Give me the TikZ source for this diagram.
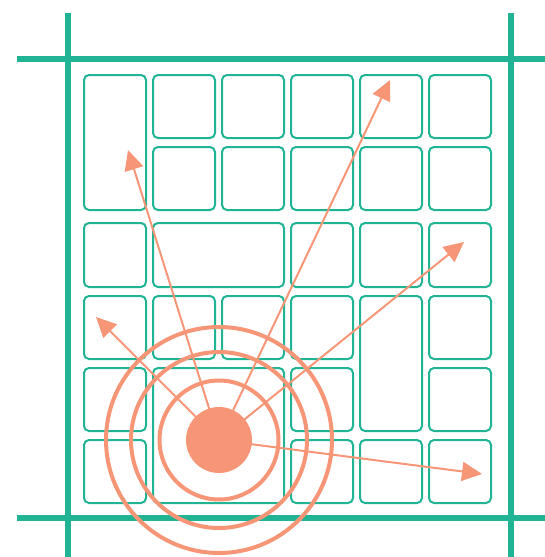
\documentclass[tikz,border=0pt]{standalone}
\usetikzlibrary{arrows.meta}
\definecolor{gr}{RGB}{32,180,148}
\definecolor{sal}{RGB}{247,150,119}
\tikzset{
  frameline/.style={draw=gr, line width=6pt},
  cell/.style={draw=gr, line width=2pt, rounded corners=5pt},
  ring/.style={draw=sal, line width=4pt},
  ray/.style={draw=sal, line width=2pt, -{Triangle[length=20pt,width=19pt]}},
}
\begin{document}
\begin{tikzpicture}[x=1pt,y=-1pt]
\useasboundingbox (0,0) rectangle (545,557);
% frame lines
\draw[frameline] (68,13) -- (68,557);
\draw[frameline] (511,13) -- (511,557);
\draw[frameline] (17,59) -- (545,59);
\draw[frameline] (17,518) -- (545,518);
% cells
% row 0
\draw[cell] (84,75) rectangle (146,210);
\draw[cell] (153,75) rectangle (215,138);
\draw[cell] (222,75) rectangle (284,138);
\draw[cell] (291,75) rectangle (353,138);
\draw[cell] (360,75) rectangle (422,138);
\draw[cell] (429,75) rectangle (491,138);
% row 1
\draw[cell] (153,147) rectangle (215,210);
\draw[cell] (222,147) rectangle (284,210);
\draw[cell] (291,147) rectangle (353,210);
\draw[cell] (360,147) rectangle (422,210);
\draw[cell] (429,147) rectangle (491,210);
% row 2
\draw[cell] (84,223) rectangle (146,287);
\draw[cell] (153,223) rectangle (284,287);
\draw[cell] (291,223) rectangle (353,287);
\draw[cell] (360,223) rectangle (422,287);
\draw[cell] (429,223) rectangle (491,287);
% row 3
\draw[cell] (84,296) rectangle (146,359);
\draw[cell] (153,296) rectangle (215,359);
\draw[cell] (222,296) rectangle (284,359);
\draw[cell] (291,296) rectangle (353,359);
\draw[cell] (360,296) rectangle (422,431);
\draw[cell] (429,296) rectangle (491,359);
% row 4
\draw[cell] (84,368) rectangle (146,431);
\draw[cell] (153,368) rectangle (284,503);
\draw[cell] (291,368) rectangle (353,431);
\draw[cell] (429,368) rectangle (491,431);
% row 5
\draw[cell] (84,440) rectangle (146,503);
\draw[cell] (291,440) rectangle (353,503);
\draw[cell] (360,440) rectangle (422,503);
\draw[cell] (429,440) rectangle (491,503);
% source and rays
\coordinate (src) at (219,440);
\coordinate (t1) at (128,150);
\coordinate (t2) at (96,317);
\coordinate (t3) at (390,80);
\coordinate (t4) at (464,242);
\coordinate (t5) at (482,474);
\foreach \t in {t1,t2,t3,t4,t5} \draw[ray] (src) -- (\t);
\draw[ring] (src) circle[radius=59.5];
\draw[ring] (src) circle[radius=88];
\draw[ring] (src) circle[radius=113];
\node[circle, fill=sal, minimum size=66pt, inner sep=0pt] (core) at (src) {};
\end{tikzpicture}
\end{document}
